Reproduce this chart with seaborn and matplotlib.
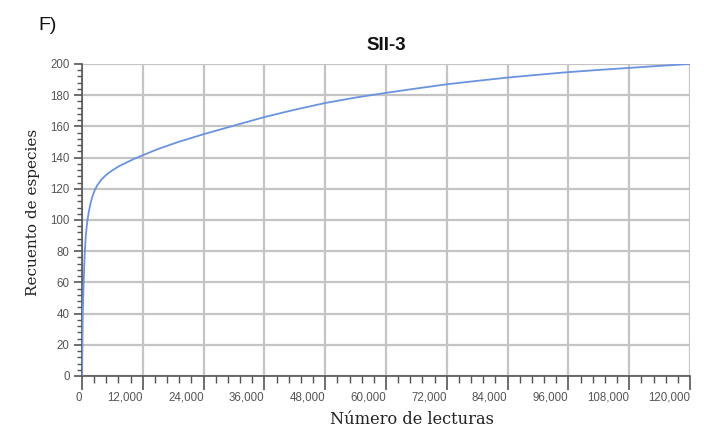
import matplotlib
matplotlib.use("Agg")
import matplotlib.pyplot as plt
from matplotlib.ticker import MultipleLocator, FuncFormatter
import seaborn as sns
import pandas as pd

# Rarefaction curve for sample SII-3
lecturas = [0, 150, 330, 530, 750, 1000, 1300, 1600, 2000, 2500, 3000, 3800,
            4800, 5800, 7200, 9000, 10500, 12000, 15000, 19000, 24000, 30000,
            36000, 42000, 48000, 54000, 60000, 66000, 72000, 78000, 84000,
            90000, 96000, 102000, 108000, 114000, 120000]
especies = [0, 40, 60, 78, 90, 98, 104.5, 109.5, 114.5, 119, 122.2, 125.8,
            129, 131.4, 134.3, 137.2, 139.5, 141.5, 145.5, 150, 155, 160.5,
            166, 170.7, 175, 178.5, 181.5, 184.3, 187, 189.2, 191.3,
            193.1, 194.8, 196.2, 197.5, 198.8, 200]

x_ticks = list(range(0, 120001, 12000))
y_ticks = list(range(0, 201, 20))

df = pd.DataFrame({"lecturas": lecturas, "especies": especies})

sns.set_style("white")
plt.rcParams["font.family"] = ["Liberation Sans", "DejaVu Sans"]

fig = plt.figure(figsize=(7.11, 4.32), dpi=100)
ax = fig.add_axes([82 / 711, 56 / 432, 608 / 711, 312 / 432])

sns.lineplot(data=df, x="lecturas", y="especies", ax=ax,
             color="#6a93e0", linewidth=1.3, zorder=3)
ax.set_xlabel("")
ax.set_ylabel("")

ax.set_xlim(0, 120000)
ax.set_ylim(0, 200)
ax.set_xticks(x_ticks)
ax.set_yticks(y_ticks)
ax.xaxis.set_minor_locator(MultipleLocator(2400))
ax.yaxis.set_minor_locator(MultipleLocator(4))
ax.xaxis.set_major_formatter(FuncFormatter(lambda v, p: f"{int(v):,}"))

ax.grid(True, which="major", color="#c4c4c4", linewidth=1.6, zorder=0)
ax.set_axisbelow(True)

for side in ("top", "right"):
    ax.spines[side].set_visible(False)
for side in ("left", "bottom"):
    ax.spines[side].set_color("#555555")
    ax.spines[side].set_linewidth(1.2)

ax.tick_params(axis="x", which="major", direction="out", length=10, width=1.2,
               color="#555555", labelsize=8.3, labelcolor="#555555", pad=1.5)
ax.tick_params(axis="x", which="minor", direction="out", length=5, width=1.0,
               color="#555555")
ax.tick_params(axis="y", which="major", direction="out", length=6, width=1.2,
               color="#555555", labelsize=8.3, labelcolor="#555555", pad=3)
ax.tick_params(axis="y", which="minor", direction="out", length=3.5, width=1.0,
               color="#555555")
ax.tick_params(bottom=True, left=True, which="both")
for lbl in ax.get_xticklabels():
    lbl.set_horizontalalignment("right")

serif = ["DejaVu Serif"]
fig.text(412 / 711, 1 - 419 / 432, "Número de lecturas", family=serif,
         fontsize=11.7, color="#222222", ha="center", va="center")
fig.text(33 / 711, 1 - 212 / 432, "Recuento de especies", family=serif,
         fontsize=11, color="#222222", ha="center", va="center", rotation=90)
ax.set_title("SII-3", fontsize=13.5, fontweight="bold", color="#111111", pad=10)

fig.text(38 / 711, 1 - 26 / 432, "F)", fontsize=14, color="#111111",
         ha="left", va="center")

fig.savefig("out.png", dpi=100, facecolor="white")
